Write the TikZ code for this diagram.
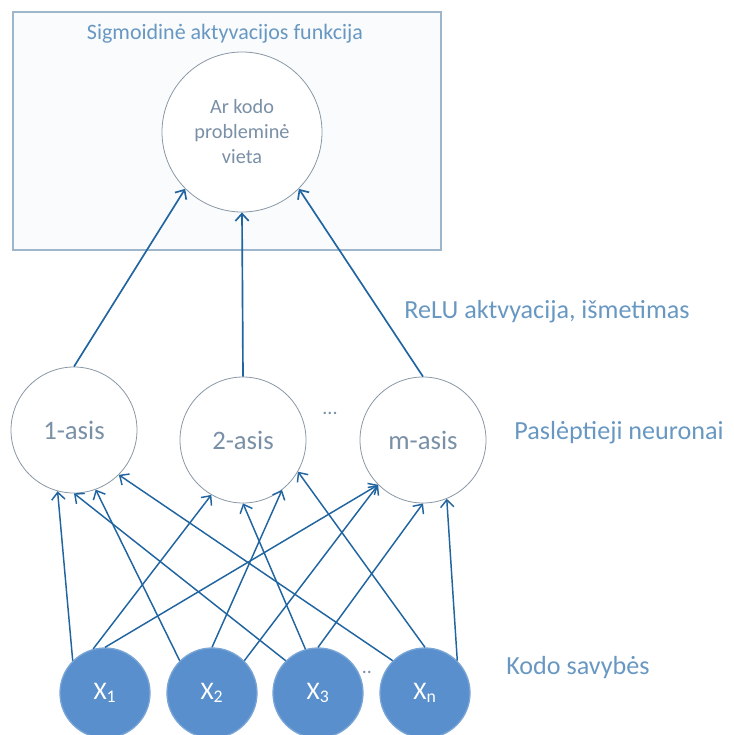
\documentclass[tikz,border=0pt]{standalone}
\usepackage{fontspec}
\setmainfont{Carlito}
\usetikzlibrary{arrows.meta}

\definecolor{wire}{RGB}{32,100,160}
\definecolor{inputfill}{RGB}{88,143,204}
\definecolor{labelblue}{RGB}{104,152,194}
\definecolor{nodetext}{RGB}{122,144,166}
\definecolor{ringgray}{RGB}{138,152,166}
\definecolor{framecol}{RGB}{158,182,204}
\definecolor{panelfill}{RGB}{249,251,253}

\begin{document}
\begin{tikzpicture}[x=0.75pt,y=-0.75pt,
  panel/.style={draw=framecol,line width=1pt,fill=panelfill},
  outunit/.style={circle,draw=ringgray,line width=0.6pt,fill=white,
    minimum size=120pt,inner sep=0pt,text=nodetext,align=center,
    font=\fontsize{15.2}{18.75}\selectfont},
  hidunit/.style={circle,draw=ringgray,line width=0.6pt,fill=white,
    minimum size=94.5pt,inner sep=0pt,text=nodetext,
    font=\fontsize{20}{22}\selectfont},
  inunit/.style={circle,fill=inputfill,draw=inputfill!80!white,line width=1pt,
    minimum size=67.5pt,inner sep=0pt,
    text=white,font=\fontsize{19}{21}\selectfont},
  caption/.style={text=labelblue,inner sep=0pt},
  dots/.style={text=nodetext,inner sep=0pt,font=\fontsize{15}{17}\selectfont},
  uplink/.style={draw=wire,line width=1.25pt,
    -{Straight Barb[length=5.5pt,width=10pt,line width=1.25pt]}},
  inlink/.style={draw=wire,line width=1.1pt,
    -{Straight Barb[length=5.5pt,width=10pt,line width=1.1pt]}}
]
\useasboundingbox (0,0) rectangle (733,735);
\clip (0,0) rectangle (733,735);

% output layer panel
\draw[panel] (13,12) rectangle (441,250);
\node[caption,font=\fontsize{16.5}{19}\selectfont] (title) at (225,34) {Sigmoidinė aktyvacijos funkcija};
\node[outunit] (out) at (242,132) {Ar kodo\\probleminė\\vieta};

% hidden layer
\node[hidunit] (h1) at (74,430) {1-asis};
\node[hidunit] (h2) at (243,440) {2-asis};
\node[hidunit] (hm) at (423,440) {m-asis};
\node[dots] (hdots) at (330,413) {...};

% input layer
\node[dots] (idots) at (367,672) {..};
\node[inunit] (x1) at (105,693) {X\textsubscript{1}};
\node[inunit] (x2) at (212,693) {X\textsubscript{2}};
\node[inunit] (x3) at (318,693) {X\textsubscript{3}};
\node[inunit] (xn) at (425,693) {X\textsubscript{n}};

% side captions
\node[caption,font=\fontsize{19.6}{23}\selectfont] (relu) at (547,312) {ReLU aktvyacija, išmetimas};
\node[caption,font=\fontsize{19.6}{23}\selectfont] (hcap) at (619,433) {Paslėptieji neuronai};
\node[caption,font=\fontsize{19.6}{23}\selectfont] (icap) at (578,668) {Kodo savybės};

% hidden -> output
\draw[uplink] (h1.north) -- (out.225);
\draw[uplink] (h2.north) -- (out.south);
\draw[uplink] (hm.north) -- (out.315);

% inputs -> hidden
\draw[inlink] (x1.135) -- (h1.255);
\draw[inlink] (x1.105) -- (h2.240);
\draw[inlink] (x1.90)  -- (hm.225);
\draw[inlink] (x2.135) -- (h1.290);
\draw[inlink] (x2.90)  -- (h2.308);
\draw[inlink] (x2.45)  -- (hm.225);
\draw[inlink] (x3.135) -- (h1.270);
\draw[inlink] (x3.106) -- (h2.270);
\draw[inlink] (x3.90)  -- (hm.270);
\draw[inlink] (xn.135) -- (h1.315);
\draw[inlink] (xn.90)  -- (h2.330);
\draw[inlink] (xn.45)  -- (hm.292);
\end{tikzpicture}
\end{document}
